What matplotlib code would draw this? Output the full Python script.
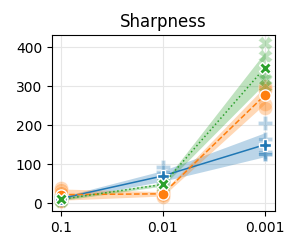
import matplotlib
matplotlib.use("Agg")
import matplotlib.pyplot as plt
import numpy as np

# learning rates (categorical x axis)
lr_labels = ["0.1", "0.01", "0.001"]

# per-run sharpness values at each learning rate
blue_runs = [[18, 15, 12, 8, 7], [92, 80, 65, 58, 55], [205, 165, 130, 125, 125]]
orange_runs = [[40, 35, 25, 5, 5], [32, 28, 24, 20, 16], [300, 295, 290, 255, 245]]
green_runs = [[15, 12, 10, 8, 5], [54, 50, 48, 46, 42], [410, 378, 330, 318, 300]]

series = [
    (blue_runs, "tab:blue", "P", "-"),
    (orange_runs, "tab:orange", "o", "--"),
    (green_runs, "tab:green", "X", ":"),
]

fig = plt.figure(figsize=(3.0, 2.5), dpi=100)
ax = fig.add_axes([0.173, 0.156, 0.744, 0.704])

xs = np.arange(len(lr_labels))
for runs, color, marker, ls in series:
    arr = np.array(runs, dtype=float)
    mean = arr.mean(axis=1)
    sem = arr.std(axis=1, ddof=1) / np.sqrt(arr.shape[1])
    ax.fill_between(xs, mean - 1.96 * sem, mean + 1.96 * sem, color=color, alpha=0.3, lw=0)
    for i, vals in enumerate(runs):
        ax.plot([xs[i]] * len(vals), vals, linestyle="none", marker=marker,
                markersize=10, color=color, alpha=0.3, markeredgecolor="white",
                markeredgewidth=0.5)
    ax.plot(xs, mean, color=color, linestyle=ls, lw=1.1, marker=marker,
            markersize=8, markeredgecolor="white", markeredgewidth=1.0, zorder=5)

ax.set_xticks(xs)
ax.set_xticklabels(lr_labels)
ax.set_xlim(-0.09, 2.1)
ax.set_ylim(-20, 431)
ax.set_yticks([0, 100, 200, 300, 400])
ax.grid(True, color="#e6e6e6", lw=0.8)
ax.set_axisbelow(True)
ax.tick_params(labelsize=10)
ax.set_title("Sharpness", fontsize=12)

fig.savefig("out.png", dpi=100)
